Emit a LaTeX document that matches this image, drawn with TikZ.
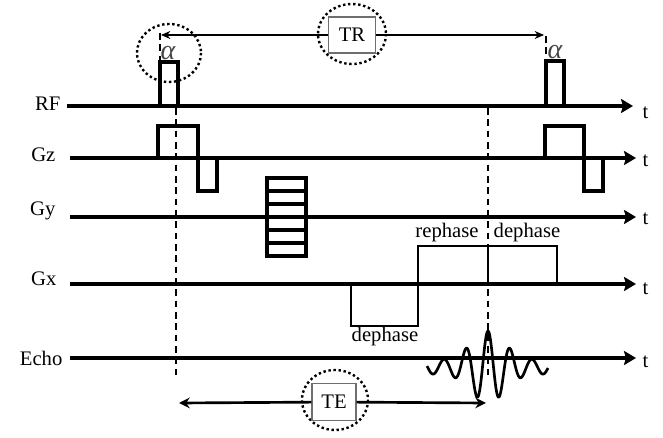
\documentclass[tikz,border=0pt]{standalone}
\usepackage{fontspec}
\setmainfont{Liberation Serif}
\usetikzlibrary{arrows.meta, positioning}
\definecolor{boxgray}{RGB}{110,110,110}
\definecolor{alphagray}{RGB}{70,70,70}

\begin{document}
\begin{tikzpicture}[
    x=0.75pt, y=-0.75pt,
    font=\fontsize{15.5}{18}\selectfont,
    axis/.style={line width=3pt, -{Stealth[length=9pt, width=10.5pt, inset=1.5pt]}},
    pulse/.style={line width=2.6pt, line join=miter},
    lobe/.style={line width=1.6pt, line join=miter},
    marker/.style={line width=1pt, dash pattern=on 5pt off 3.5pt},
    ring/.style={line width=1.8pt, dotted},
    tbox/.style={rectangle, draw=boxgray, line width=0.8pt, fill=white, minimum width=35pt, minimum height=27pt, inner sep=2pt},
    span/.style={line width=1pt, -{Stealth[length=7pt, width=6pt]}},
    wide span/.style={line width=2pt, -{Stealth[length=8pt, width=8pt]}},
    lab/.style={inner sep=1pt},
    flip/.style={inner sep=0pt, text=alphagray, anchor=base, font=\fontsize{21}{24}\selectfont\itshape},
    wave/.style={line width=2pt, line join=round}
]
    \useasboundingbox (0,0) rectangle (663,438);

    % time axes
    \coordinate (rf0) at (67,106);   \coordinate (rf1) at (633,106);
    \coordinate (gz0) at (70,158);   \coordinate (gz1) at (636,158);
    \coordinate (gy0) at (70,217);   \coordinate (gy1) at (636,217);
    \coordinate (gx0) at (70,284);   \coordinate (gx1) at (636,284);
    \coordinate (echo0) at (70,358); \coordinate (echo1) at (636,358);

    \node [lab, anchor=base east] (rflab) at (62,111) {RF};
    \node [lab, anchor=base east] (gzlab) at (57,162) {Gz};
    \node [lab, anchor=base east] (gylab) at (57,216) {Gy};
    \node [lab, anchor=base east] (gxlab) at (58,285) {Gx};
    \node [lab, anchor=base east] (echolab) at (64,365) {Echo};

    \node [lab, anchor=base west] (rft) at (641,119) {t};
    \node [lab, anchor=base west] (gzt) at (641,167) {t};
    \node [lab, anchor=base west] (gyt) at (641,224) {t};
    \node [lab, anchor=base west] (gxt) at (641,294) {t};
    \node [lab, anchor=base west] (echot) at (641,367) {t};

    \draw [axis] (rf0) -- (rf1);
    \draw [axis] (gz0) -- (gz1);
    \draw [axis] (gy0) -- (gy1);
    \draw [axis] (gx0) -- (gx1);
    \draw [axis] (echo0) -- (echo1);

    % RF pulses
    \draw [pulse] (160,106) -- (160,62) -- (178,62) -- (178,106);
    \draw [pulse] (546,106) -- (546,61) -- (564,61) -- (564,106);
    \node [flip] (alpha1) at (168,60) {α};
    \node [flip] (alpha2) at (555,59) {α};

    % slice select
    \draw [pulse] (158,158) -- (158,126) -- (198,126) -- (198,191) -- (217,191) -- (217,158);
    \draw [pulse] (545,158) -- (545,126) -- (584,126) -- (584,191) -- (603,191) -- (603,158);

    % phase encoding
    \draw [pulse] (267,178) rectangle (306,256);
    \draw [pulse] (267,191) -- (306,191);
    \draw [pulse] (267,204) -- (306,204);
    \draw [pulse] (267,230) -- (306,230);
    \draw [pulse] (267,243) -- (306,243);

    % readout
    \draw [lobe] (351,284) -- (351,326) -- (418,326) -- (418,246) -- (557,246) -- (557,284);
    \draw [lobe] (488,246) -- (488,284);
    \node [lab] (reph) at (447,233) {rephase};
    \node [lab] (deph2) at (527,233) {dephase};
    \node [lab] (deph1) at (385,337) {dephase};

    % echo
    \draw [wave] plot[domain=-61:60, samples=200]
        ({488+\x}, {367-cos(16.3636*\x)*(7+29*exp(-\x*\x/529))});

    % timing markers
    \draw [marker] (176,108) -- (176,377);
    \draw [marker] (488,108) -- (488,376);
    \draw [marker] (160,33) -- (160,62);
    \draw [marker] (546,36) -- (546,60);

    % TR
    \draw [ring] (169,53) ellipse [x radius=32, y radius=29];
    \draw [ring] (352,34) ellipse [x radius=34, y radius=30];
    \node [tbox] (tr) at (352,35) {TR};
    \coordinate (trl) at (161,35);
    \coordinate (trr) at (544,35);
    \draw [span] (tr) -- (trl);
    \draw [span] (tr) -- (trr);

    % TE
    \draw [ring] (335,400) ellipse [x radius=33, y radius=30];
    \node [tbox, minimum width=33pt, minimum height=28pt] (te) at (334,402) {TE};
    \coordinate (tel) at (179,403);
    \coordinate (ter) at (486,403);
    \draw [wide span] (te) -- (tel);
    \draw [wide span] (te) -- (ter);

\end{tikzpicture}
\end{document}
